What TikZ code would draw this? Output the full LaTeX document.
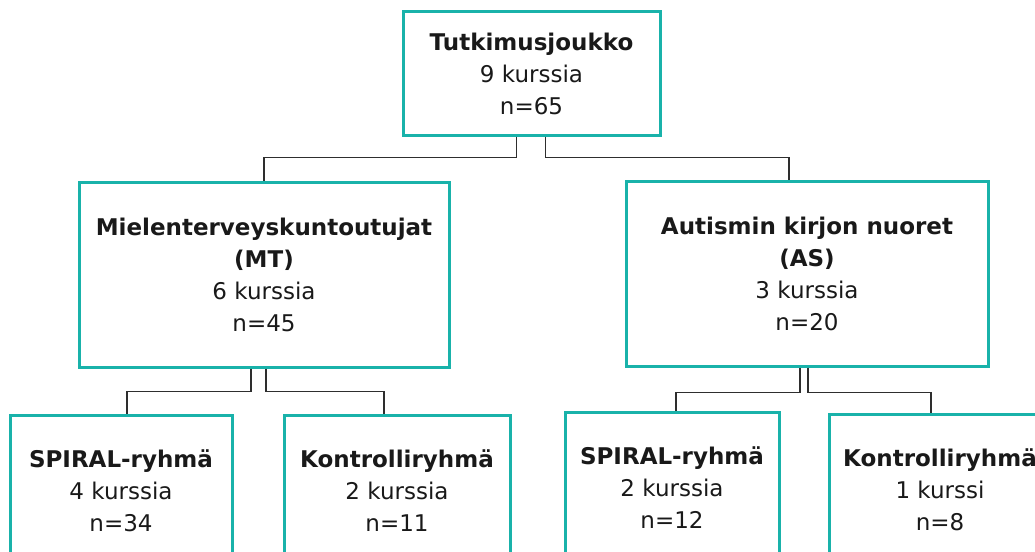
\documentclass[tikz,border=0pt]{standalone}
\usepackage{fontspec}
\setmainfont{DejaVu Sans}
\usepackage{xcolor}
\usepackage{tikz}
\usetikzlibrary{positioning}

\definecolor{boxteal}{HTML}{19B2AA}
\definecolor{lngray}{HTML}{2E2E2E}

\begin{document}
\begin{tikzpicture}[
  x=1pt, y=1pt,
  font=\fontsize{23}{32}\selectfont,
  box/.style={draw=boxteal, line width=3pt, align=center, inner sep=3pt,
              text=black!90},
  ln/.style={draw=lngray, line width=1.3pt}
]
\clip (0,0) rectangle (1035,-551);
\node[box, minimum width=257pt, minimum height=123pt] (top) at (531.5,-73.5)
  {\textbf{Tutkimusjoukko}\\9 kurssia\\n=65};
\node[box, minimum width=370pt, minimum height=185pt] (mt) at (264,-274.5)
  {\textbf{Mielenterveyskuntoutujat}\\\textbf{(MT)}\\6 kurssia\\n=45};
\node[box, minimum width=362pt, minimum height=185pt] (as) at (807,-273.5)
  {\textbf{Autismin kirjon nuoret}\\\textbf{(AS)}\\3 kurssia\\n=20};
\node[box, minimum width=222pt, minimum height=152pt] (mtsp) at (121,-491)
  {\textbf{SPIRAL-ryhmä}\\4 kurssia\\n=34};
\node[box, minimum width=226pt, minimum height=152pt] (mtk) at (397,-491)
  {\textbf{Kontrolliryhmä}\\2 kurssia\\n=11};
\node[box, minimum width=214pt, minimum height=152pt] (assp) at (672,-488)
  {\textbf{SPIRAL-ryhmä}\\2 kurssia\\n=12};
\node[box, minimum width=222pt, minimum height=152pt] (ask) at (940,-490)
  {\textbf{Kontrolliryhmä}\\1 kurssi\\n=8};
% elbow connectors
\draw[ln] ([xshift=-15pt]top.south) -- ++(0,-21) -| (mt.north);
\draw[ln] ([xshift=14pt]top.south) -- ++(0,-21) -| ([xshift=-18pt]as.north);
\draw[ln] ([xshift=-13pt]mt.south) -- ++(0,-23) -| ([xshift=6pt]mtsp.north);
\draw[ln] ([xshift=2pt]mt.south) -- ++(0,-23) -| ([xshift=-13pt]mtk.north);
\draw[ln] ([xshift=-7pt]as.south) -- ++(0,-25) -| ([xshift=4pt]assp.north);
\draw[ln] ([xshift=1pt]as.south) -- ++(0,-25) -| ([xshift=-9pt]ask.north);
\end{tikzpicture}
\end{document}
